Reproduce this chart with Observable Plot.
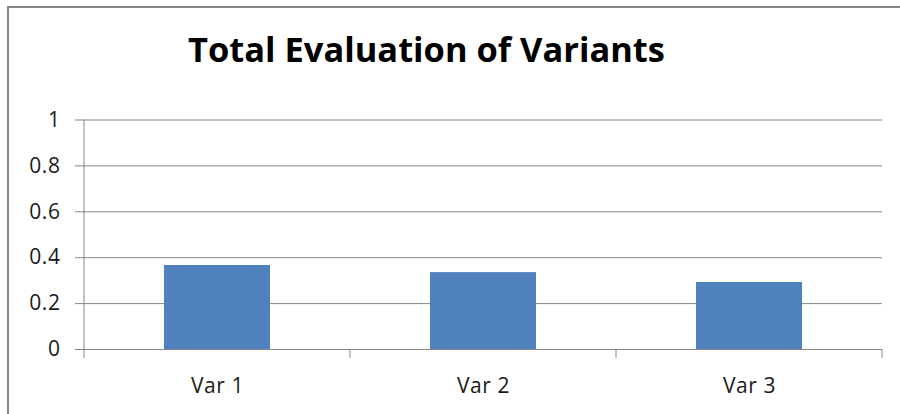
<!DOCTYPE html>
<html>
<head>
<meta charset="utf-8">
<script src="https://cdn.jsdelivr.net/npm/d3@7"></script>
<script src="https://cdn.jsdelivr.net/npm/@observablehq/plot@0.6"></script>
<style>
  html, body { margin: 0; padding: 0; background: #fff; }
  #wrap { position: relative; width: 900px; height: 414px; overflow: hidden; background: #fff; }
  #frame { position: absolute; left: 7px; top: 6px; width: 1000px; height: 1000px;
           border-left: 2px solid #878787; border-top: 2px solid #878787; box-sizing: border-box; }
  #title { position: absolute; top: 25px; left: 0; width: 853px; text-align: center;
           font-family: "Open Sans", Lato, sans-serif; font-weight: bold; color: #000; white-space: nowrap; }
  #chart { position: absolute; left: 0; top: 0; }
  #chart svg text { font-size: 21px; letter-spacing: 0.6px; }
</style>
</head>
<body>
<div id="wrap">
  <div id="frame"></div>
  <div id="title">Total Evaluation of Variants</div>
  <div id="chart"></div>
</div>
<script>
const categories = ["Var 1", "Var 2", "Var 3"];
const values = [0.366, 0.335, 0.292];
const yTicks = [0, 0.2, 0.4, 0.6, 0.8, 1];
const yTickLabels = ["0", "0.2", "0.4", "0.6", "0.8", "1"];
const titleText = "Total Evaluation of Variants";

const data = categories.map((c, i) => ({category: c, value: values[i]}));

// fit title width
const titleEl = document.getElementById("title");
titleEl.textContent = titleText;
{
  const cv = document.createElement("canvas").getContext("2d");
  cv.font = 'bold 100px "Open Sans"';
  const w = cv.measureText(titleText).width;
  const size = Math.min(36, 477 / w * 100);
  titleEl.style.fontSize = size + "px";
}

const gray = "#868686";
const font = '"Open Sans", Lato, sans-serif';
const NS = "http://www.w3.org/2000/svg";

const axisLines = (index, scales, values, dims) => {
  const g = document.createElementNS(NS, "g");
  const inner = dims.width - dims.marginLeft - dims.marginRight;
  const n = categories.length;
  const y0 = scales.y(0);
  const y1 = scales.y(1);
  const add = (x1, x2, ya, yb) => {
    const l = document.createElementNS(NS, "line");
    l.setAttribute("x1", x1); l.setAttribute("x2", x2);
    l.setAttribute("y1", ya); l.setAttribute("y2", yb);
    l.setAttribute("stroke", gray);
    g.appendChild(l);
  };
  add(dims.marginLeft, dims.marginLeft, y1, y0);
  for (let k = 0; k <= n; k++) {
    const x = dims.marginLeft + k * inner / n;
    add(x, x, y0, y0 + 9);
  }
  return g;
};

const chart = Plot.plot({
  width: 900,
  height: 414,
  marginLeft: 84,
  marginRight: 18,
  marginTop: 119.5,
  marginBottom: 65,
  style: {background: "transparent", fontFamily: font, fontSize: "21px", color: "#1a1a1a"},
  x: {domain: categories, paddingInner: 0.6, paddingOuter: 0.3, label: null},
  y: {domain: [0, 1], label: null},
  marks: [
    Plot.ruleY(yTicks, {stroke: gray, strokeOpacity: 1}),
    Plot.barY(data, {x: "category", y: "value", fill: "#4F81BD"}),
    axisLines,
    Plot.axisY({ticks: yTicks, tickFormat: (d, i) => yTickLabels[i], tickSize: 9, tickPadding: 15,
                stroke: gray, strokeOpacity: 1, fontSize: 21, fill: "#1a1a1a", label: null}),
    Plot.axisX({tickSize: 0, tickPadding: 29, fontSize: 21, fill: "#1a1a1a", label: null})
  ]
});
document.getElementById("chart").appendChild(chart);
</script>
</body>
</html>
